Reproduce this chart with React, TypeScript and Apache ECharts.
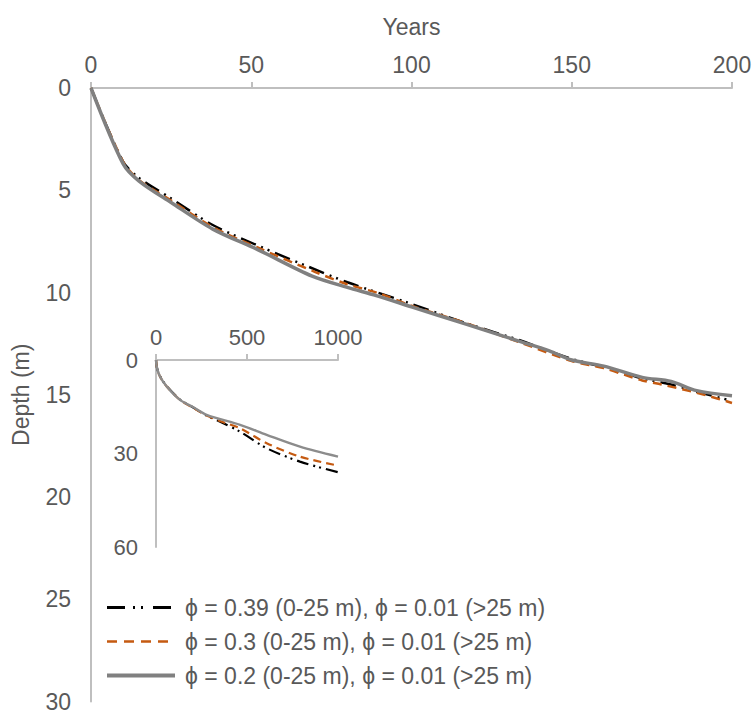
import React, { useEffect, useRef } from "react";
import * as echarts from "echarts";

// Main chart (0-200 years)
const yearsA = [0, 10, 15, 25, 38, 52, 68, 80, 98, 117, 134, 150, 160, 172, 181, 189, 200];
const depthA = [0, 3.6, 4.4, 5.4, 6.7, 7.7, 8.75, 9.5, 10.45, 11.5, 12.35, 13.25, 13.65, 14.2, 14.5, 14.85, 15.3];
const yearsB = [0, 10, 15, 25, 38, 52, 70, 80, 90, 100, 117, 134, 150, 160, 172, 178, 189, 200];
const depthB = [0, 3.6, 4.5, 5.5, 6.8, 7.8, 9.0, 9.6, 10.05, 10.65, 11.5, 12.45, 13.35, 13.7, 14.3, 14.5, 14.9, 15.4];
const yearsC = [0, 10, 15, 25, 38, 52, 69, 80, 89, 100, 117, 134, 143, 150, 160, 172, 181, 189, 200];
const depthC = [0, 3.7, 4.55, 5.6, 6.9, 7.9, 9.2, 9.75, 10.15, 10.7, 11.55, 12.4, 12.85, 13.3, 13.6, 14.15, 14.35, 14.8, 15.05];

// Inset (0-1000 years)
const insetYearsA = [0, 5, 22, 59, 132, 200, 278, 370, 462, 608, 791, 1000];
const insetDepthA = [0, 2.4, 5.2, 8.4, 12.7, 15.1, 17.8, 20.3, 23, 28.3, 32.6, 36];
const insetYearsB = [0, 5, 22, 59, 132, 200, 278, 370, 462, 608, 791, 1000];
const insetDepthB = [0, 2.4, 5.3, 8.5, 12.8, 15.2, 17.8, 20.0, 21.9, 26.7, 31, 33.9];
const insetYearsC = [0, 5, 22, 59, 132, 200, 278, 462, 608, 791, 1000];
const insetDepthC = [0, 2.5, 5.3, 8.5, 12.8, 15, 17.6, 20.8, 24, 27.8, 31];

const names = [
  "\u03d5 = 0.39 (0-25 m), \u03d5 = 0.01 (>25 m)",
  "\u03d5 = 0.3 (0-25 m), \u03d5 = 0.01 (>25 m)",
  "\u03d5 = 0.2 (0-25 m), \u03d5 = 0.01 (>25 m)",
];

const pairs = (xs: number[], ys: number[]) => xs.map((x, i) => [x, ys[i]]);

const FONT = "Liberation Sans";
const TXT = "#595959";
const AXIS = "#BFBFBF";

export default function App() {
  const ref = useRef<HTMLDivElement>(null);
  useEffect(() => {
    if (!ref.current) return;
    const chart = echarts.init(ref.current, null, { renderer: "svg" });
    const styles = [
      { color: "#000000", width: 2.5, type: [16, 6, 2, 5, 2, 6] as any },
      { color: "#C55A11", width: 2.5, type: [9, 6] as any },
      { color: "#808080", width: 3.5, type: "solid" as any },
    ];
    const insetStyles = [
      { color: "#000000", width: 2.2, type: [12, 5, 2, 4, 2, 5] as any },
      { color: "#C55A11", width: 2.2, type: [8, 5] as any },
      { color: "#8C8C8C", width: 2.5, type: "solid" as any },
    ];
    const legendStyles = [
      { color: "#000000", width: 3, type: [18, 8, 2, 6, 2, 10] as any },
      { color: "#C55A11", width: 2.5, type: [10, 7] as any },
      { color: "#808080", width: 4, type: "solid" as any },
    ];
    const mainData = [pairs(yearsA, depthA), pairs(yearsB, depthB), pairs(yearsC, depthC)];
    const insetData = [
      pairs(insetYearsA, insetDepthA),
      pairs(insetYearsB, insetDepthB),
      pairs(insetYearsC, insetDepthC),
    ];
    const series: any[] = [];
    for (let i = 0; i < 3; i++) {
      series.push({
        type: "line",
        name: names[i],
        xAxisIndex: 0,
        yAxisIndex: 0,
        data: mainData[i],
        showSymbol: false,
        symbol: "none",
        smooth: 0.3,
        lineStyle: styles[i],
        itemStyle: { color: styles[i].color },
      });
    }
    for (let i = 0; i < 3; i++) {
      series.push({
        type: "line",
        name: names[i],
        xAxisIndex: 1,
        yAxisIndex: 1,
        data: insetData[i],
        showSymbol: false,
        symbol: "none",
        smooth: 0.3,
        lineStyle: insetStyles[i],
        itemStyle: { color: insetStyles[i].color },
      });
    }
    chart.setOption({
      animation: false,
      textStyle: { fontFamily: FONT },
      grid: [
        { left: 91, top: 88, width: 641, height: 615 },
        { left: 156, top: 360, width: 182, height: 187 },
      ],
      legend: {
        orient: "vertical",
        left: 100,
        top: 591,
        itemWidth: 68,
        itemHeight: 14,
        itemGap: 11,
        data: names.map((n, i) => ({
          name: n,
          lineStyle: {
            color: legendStyles[i].color,
            width: legendStyles[i].width,
            type: legendStyles[i].type,
          },
        })),
        itemStyle: { opacity: 0 },
        textStyle: { fontSize: 23, color: TXT, fontFamily: FONT, padding: [0, 0, 0, 5] },
      },
      xAxis: [
        {
          type: "value",
          gridIndex: 0,
          position: "top",
          min: 0,
          max: 200,
          interval: 50,
          name: "Years",
          nameLocation: "middle",
          nameGap: 50,
          nameTextStyle: { fontSize: 23, color: TXT },
          axisLine: { show: true, onZero: false, lineStyle: { color: AXIS, width: 2 } },
          axisTick: { show: true, length: 6, lineStyle: { color: AXIS, width: 2 } },
          axisLabel: { fontSize: 23, color: TXT, margin: 12 },
          splitLine: { show: false },
        },
        {
          type: "value",
          gridIndex: 1,
          position: "top",
          min: 0,
          max: 1000,
          interval: 500,
          axisLine: { show: true, onZero: false, lineStyle: { color: AXIS, width: 2 } },
          axisTick: { show: true, length: 6, lineStyle: { color: AXIS, width: 2 } },
          axisLabel: { fontSize: 22, color: TXT, margin: 12, formatter: (v: number) => String(v) },
          splitLine: { show: false },
        },
      ],
      yAxis: [
        {
          type: "value",
          gridIndex: 0,
          inverse: true,
          min: 0,
          max: 30,
          interval: 5,
          name: "Depth (m)",
          nameLocation: "middle",
          nameGap: 59,
          nameTextStyle: { fontSize: 23, color: TXT },
          axisLine: { show: true, onZero: false, lineStyle: { color: AXIS, width: 2 } },
          axisTick: { show: false },
          axisLabel: { fontSize: 23, color: TXT, margin: 20 },
          splitLine: { show: false },
        },
        {
          type: "value",
          gridIndex: 1,
          inverse: true,
          min: 0,
          max: 60,
          interval: 30,
          axisLine: { show: true, onZero: false, lineStyle: { color: AXIS, width: 2 } },
          axisTick: { show: false },
          axisLabel: { fontSize: 22, color: TXT, margin: 18 },
          splitLine: { show: false },
        },
      ],
      series,
    });
    return () => chart.dispose();
  }, []);
  return (
    <div
      ref={ref}
      style={{ position: "fixed", left: 0, top: 0, width: 756, height: 713, background: "#fff" }}
    />
  );
}
